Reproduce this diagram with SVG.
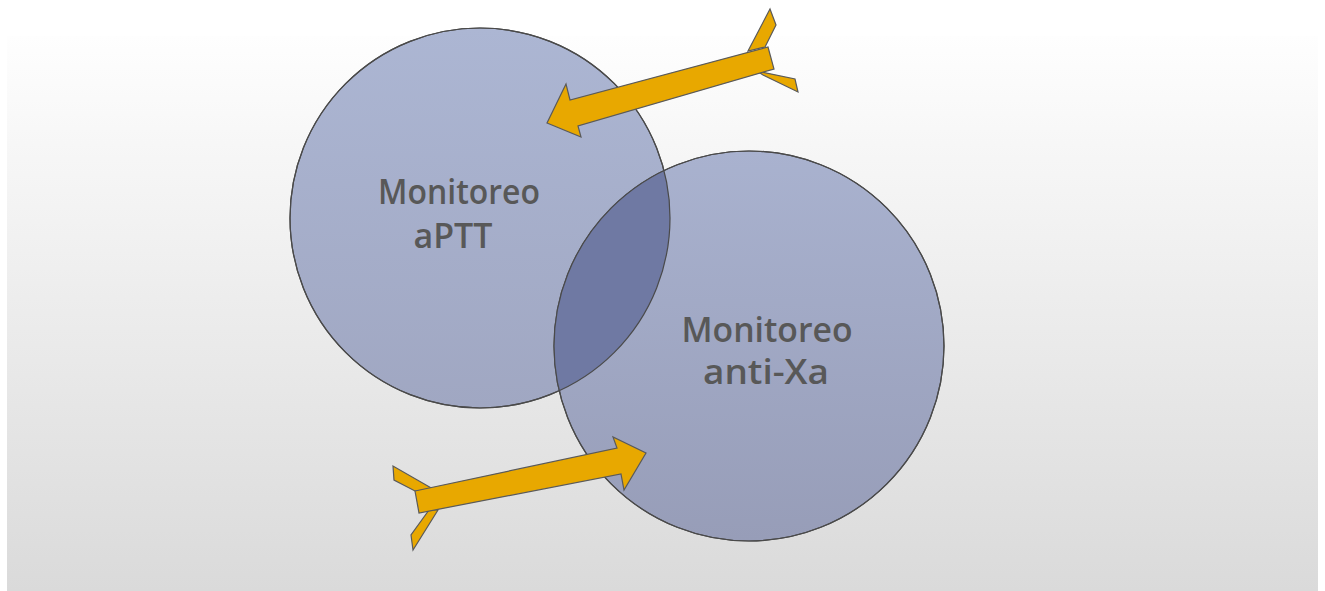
<svg xmlns="http://www.w3.org/2000/svg" width="1325" height="591" viewBox="0 0 1325 591">
<defs>
<linearGradient id="bg" x1="0" y1="0" x2="0" y2="1">
<stop offset="0" stop-color="#fefefe"/>
<stop offset="1" stop-color="#dadada"/>
</linearGradient>
<linearGradient id="c1" x1="0" y1="0" x2="0" y2="1">
<stop offset="0" stop-color="#acb6d3"/>
<stop offset="1" stop-color="#a0a7c2"/>
</linearGradient>
<linearGradient id="c2" x1="0" y1="0" x2="0" y2="1">
<stop offset="0" stop-color="#a9b2cf"/>
<stop offset="1" stop-color="#979db8"/>
</linearGradient>
<clipPath id="clip1"><circle cx="480" cy="218" r="190"/></clipPath>
<style>
.circ{stroke:#4a4a4a;stroke-width:1.2}
.lbl{font-family:"Open Sans","Noto Sans",sans-serif;font-weight:600;font-size:34px;fill:#585858;text-anchor:middle}
.arr{fill:#e8a800;stroke:#5a5a5a;stroke-width:1.2;stroke-linejoin:miter}
</style>
</defs>
<rect x="0" y="0" width="1325" height="591" fill="#ffffff"/>
<rect x="7" y="36" width="1311" height="555" fill="url(#bg)"/>
<g id="circle-aptt">
<circle class="circ" cx="480" cy="218" r="190" fill="url(#c1)"/>
</g>
<g id="circle-antixa">
<circle class="circ" cx="749" cy="346" r="195" fill="url(#c2)"/>
<circle cx="749" cy="346" r="195" fill="#6f79a3" clip-path="url(#clip1)"/>
<circle cx="480" cy="218" r="190" fill="none" stroke="#4a4a4a" stroke-width="1.2"/>
<circle cx="749" cy="346" r="195" fill="none" stroke="#4a4a4a" stroke-width="1.2"/>
</g>
<g id="label-aptt">
<text class="lbl" x="459" y="204" textLength="162" lengthAdjust="spacingAndGlyphs">Monitoreo</text>
<text class="lbl" x="453" y="248" textLength="79" lengthAdjust="spacingAndGlyphs">aPTT</text>
</g>
<g id="label-antixa">
<text class="lbl" x="767" y="342" textLength="171" lengthAdjust="spacingAndGlyphs">Monitoreo</text>
<text class="lbl" x="766" y="384" textLength="126" lengthAdjust="spacingAndGlyphs">anti-Xa</text>
</g>
<g id="connectors">
<g id="arrow-top">
<polygon class="arr" points="748,51 770,9 776,25 765,47"/>
<polygon class="arr" points="757,71 795,79 798,92 763,75"/>
<polygon class="arr" points="768,47 774,69 578,126 581,137 547,123 566,84 570,100"/>
</g>
<g id="arrow-bottom">
<polygon class="arr" points="433,489 393,466 394,480 415,491"/>
<polygon class="arr" points="438,510 413,550 411,535 429,510"/>
<polygon class="arr" points="415,491 617,448 613,437 646,453 624,490 621,474 419,513"/>
</g>
</g>
</svg>
